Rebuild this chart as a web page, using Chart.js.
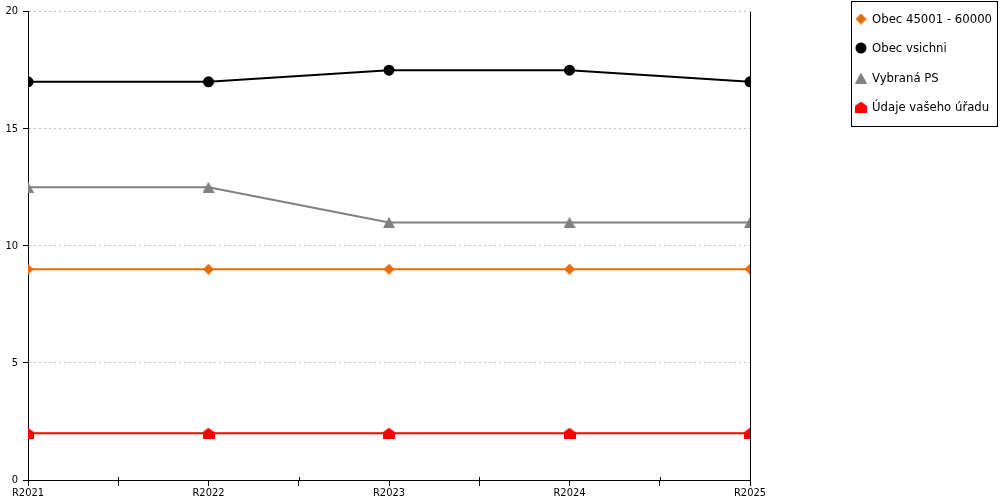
<!DOCTYPE html>
<html>
<head>
<meta charset="utf-8">
<script src="https://cdn.jsdelivr.net/npm/chart.js@4"></script>
<style>
html,body{margin:0;padding:0;background:#fff;}
#wrap{position:relative;width:1000px;height:500px;}
</style>
</head>
<body>
<div id="wrap"><canvas id="c" width="1000" height="500"></canvas></div>
<script>
const categories = ['R2021', 'R2022', 'R2023', 'R2024', 'R2025'];
const obec45001 = [9, 9, 9, 9, 9];
const obecVsichni = [17, 17, 17.5, 17.5, 17];
const vybranaPS = [12.5, 12.5, 11, 11, 11];
const udajeUradu = [2, 2, 2, 2, 2];
const seriesNames = ['Obec 45001 - 60000', 'Obec vsichni', 'Vybraná PS', 'Údaje vašeho úřadu'];
const yTicks = [0, 5, 10, 15, 20];

const FONT = '"DejaVu Sans Condensed", "Liberation Sans", sans-serif';

function houseMarker(color) {
  const cv = document.createElement('canvas');
  cv.width = 12; cv.height = 11;
  const g = cv.getContext('2d');
  g.fillStyle = color;
  g.beginPath();
  g.moveTo(6, 0);
  g.lineTo(12, 4.5);
  g.lineTo(12, 11);
  g.lineTo(0, 11);
  g.lineTo(0, 4.5);
  g.closePath();
  g.fill();
  return cv;
}
function triangleMarker(color) {
  const cv = document.createElement('canvas');
  cv.width = 12; cv.height = 11;
  const g = cv.getContext('2d');
  g.fillStyle = color;
  g.beginPath();
  g.moveTo(6, 0);
  g.lineTo(12, 11);
  g.lineTo(0, 11);
  g.closePath();
  g.fill();
  return cv;
}
function diamondMarker(color) {
  const cv = document.createElement('canvas');
  cv.width = 11; cv.height = 11;
  const g = cv.getContext('2d');
  g.fillStyle = color;
  g.beginPath();
  g.moveTo(5.5, 0);
  g.lineTo(11, 5.5);
  g.lineTo(5.5, 11);
  g.lineTo(0, 5.5);
  g.closePath();
  g.fill();
  return cv;
}
const house = houseMarker('#ff0000');
const tri = triangleMarker('#808080');
const diamond = diamondMarker('#e46c0a');

function pts(arr) { return arr.map((v, i) => ({x: i, y: v})); }

const datasets = [
  {label: seriesNames[0], data: pts(obec45001), borderColor: '#e46c0a', backgroundColor: '#e46c0a', pointStyle: diamond, pointRadius: 6, borderWidth: 2},
  {label: seriesNames[1], data: pts(obecVsichni), borderColor: '#000000', backgroundColor: '#000000', pointStyle: 'circle', pointRadius: 5.5, borderWidth: 2},
  {label: seriesNames[2], data: pts(vybranaPS), borderColor: '#808080', backgroundColor: '#808080', pointStyle: tri, pointRadius: 6, borderWidth: 2},
  {label: seriesNames[3], data: pts(udajeUradu), borderColor: '#ff0000', backgroundColor: '#ff0000', pointStyle: house, pointRadius: 6, borderWidth: 2}
];
datasets.forEach(d => { d.pointBorderWidth = 0; d.tension = 0; d.fill = false; d.pointHoverRadius = d.pointRadius; });

const extras = {
  id: 'extras',
  afterDatasetsDraw(chart) {
    const ctx = chart.ctx, a = chart.chartArea, xs = chart.scales.x;
    ctx.save();
    ctx.strokeStyle = '#000';
    ctx.lineWidth = 1;
    ctx.beginPath();
    ctx.moveTo(Math.round(a.right) + 0.5, a.top);
    ctx.lineTo(Math.round(a.right) + 0.5, a.bottom);
    for (let i = 0; i < categories.length - 1; i++) {
      const px = Math.round(xs.getPixelForValue(i + 0.5)) + 0.5;
      ctx.moveTo(px, a.bottom - 3);
      ctx.lineTo(px, a.bottom);
    }
    ctx.stroke();
    ctx.restore();
  },
  afterDraw(chart) {
    const ctx = chart.ctx;
    ctx.save();
    const bx = 851, by = 1, bw = 146, bh = 125;
    ctx.fillStyle = '#fff';
    ctx.fillRect(bx, by, bw, bh);
    ctx.strokeStyle = '#000';
    ctx.lineWidth = 1;
    ctx.strokeRect(bx + 0.5, by + 0.5, bw, bh);
    const rows = [19, 48, 78, 107];
    ctx.font = '13px ' + FONT;
    ctx.textBaseline = 'middle';
    ctx.textAlign = 'left';
    chart.data.datasets.forEach((d, i) => {
      const y = rows[i];
      ctx.fillStyle = d.backgroundColor;
      ctx.strokeStyle = d.backgroundColor;
      Chart.helpers.drawPoint(ctx, {pointStyle: d.pointStyle, rotation: 0, borderWidth: 0, radius: d.pointRadius}, 861, y);
      ctx.fillStyle = '#000';
      ctx.fillText(d.label, 872, y + 1);
    });
    ctx.restore();
  }
};

new Chart(document.getElementById('c'), {
  type: 'line',
  data: {datasets},
  options: {
    responsive: false,
    animation: false,
    devicePixelRatio: 1,
    layout: {padding: {top: 10, right: 250, left: 0, bottom: 0}},
    plugins: {legend: {display: false}, tooltip: {enabled: false}},
    scales: {
      x: {
        type: 'linear',
        min: 0, max: categories.length - 1,
        afterFit(s) { s.height = 20; },
        afterBuildTicks(s) {
          const t = [];
          for (let v = 0; v <= categories.length - 1; v += 0.5) t.push({value: v});
          s.ticks = t;
        },
        ticks: {
          autoSkip: false, maxRotation: 0, padding: 1,
          color: '#000', font: {family: FONT, size: 11},
          callback: v => Number.isInteger(v) ? categories[v] : ''
        },
        grid: {drawOnChartArea: false, drawTicks: true, tickLength: 6, tickColor: '#000'},
        border: {display: true, color: '#000', width: 1}
      },
      y: {
        min: 0, max: 20,
        afterFit(s) { s.width = 28; },
        afterBuildTicks(s) { s.ticks = yTicks.map(v => ({value: v})); },
        ticks: {padding: 5, color: '#000', font: {family: FONT, size: 11}},
        grid: {color: '#c0c0c0', tickColor: '#000', tickLength: 5, lineWidth: 1, drawTicks: true},
        border: {display: true, color: '#000', width: 1, dash: [2, 3]}
      }
    }
  },
  plugins: [extras]
});
</script>
</body>
</html>
